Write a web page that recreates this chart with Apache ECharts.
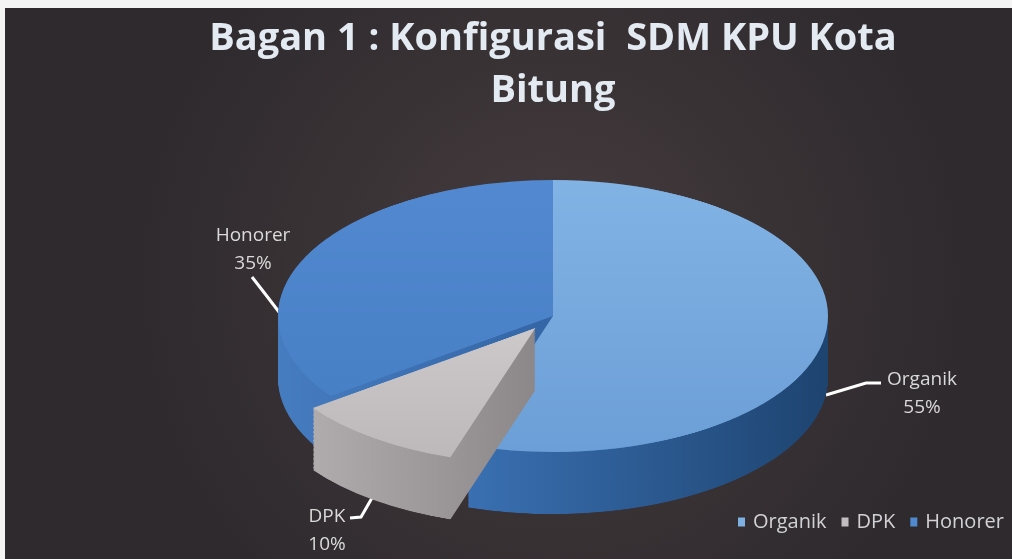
<!DOCTYPE html>
<html>
<head>
<meta charset="utf-8">
<script src="https://cdn.jsdelivr.net/npm/echarts@6/dist/echarts.min.js"></script>
<style>
html, body { margin: 0; padding: 0; background: #2e2a2e; overflow: hidden; }
#wrap { position: relative; width: 1040px; height: 559px; overflow: hidden; }
#main { position: absolute; left: 0; top: 0; width: 1040px; height: 559px; }
#pie { position: absolute; left: 0; top: 0; width: 1040px; height: 760px; pointer-events: none; }
</style>
</head>
<body>
<div id="wrap"><div id="main"></div><div id="pie"></div></div>
<script>
// data
var categories = ['Organik', 'DPK', 'Honorer'];
var values = [55, 10, 35];
var exploded = 'DPK';

// colours: top face [light, dark], side [left, right]
var topColors = [['#82b3e5', '#6c9fd7'], ['#cdc9cb', '#bdb9bb'], ['#5289d0', '#4880c6']];
var sideColors = [['#3a70b2', '#1e4470'], ['#b0acae', '#8c888a'], ['#467cc0', '#3466a6']];
var legendColors = ['#7fb0e2', '#c2bec0', '#4f8ad0'];

// fake 3D: pie drawn as a circle then squashed with css
var CX = 553, CY = 316, RX = 275, RY = 136, DEPTH = 62, LAYERS = 48;
var S = RY / RX;

var pieDom = document.getElementById('pie');
pieDom.style.transformOrigin = '0 ' + CY + 'px';
pieDom.style.transform = 'scaleY(' + S + ')';

function grad(c, horizontal) {
    return new echarts.graphic.LinearGradient(0, 0, horizontal ? 1 : 0, horizontal ? 0 : 1, [
        { offset: 0, color: c[0] },
        { offset: 1, color: c[1] }
    ]);
}

function pieData(colors, side) {
    return categories.map(function (name, i) {
        return {
            name: name,
            value: values[i],
            selected: name === exploded,
            itemStyle: { color: grad(colors[i], side) }
        };
    });
}

var pieSeries = [];
for (var k = LAYERS; k >= 0; k--) {
    pieSeries.push({
        type: 'pie',
        center: [CX, CY + k * DEPTH / S / LAYERS],
        radius: RX,
        startAngle: 90,
        clockwise: true,
        selectedMode: 'single',
        selectedOffset: 30,
        silent: true,
        animation: false,
        label: { show: false },
        labelLine: { show: false },
        itemStyle: { borderWidth: 0 },
        data: pieData(k === 0 ? topColors : sideColors, k !== 0)
    });
}

var pieChart = echarts.init(pieDom);
pieChart.setOption({ animation: false, series: pieSeries });

// label spots (annotation placement only)
var labelSpots = {
    Organik: { x: 922, y: 394, line: [[826, 395], [866, 383], [881, 383]] },
    DPK: { x: 327, y: 531, line: [[376, 491], [361, 517], [350, 518]] },
    Honorer: { x: 253, y: 250, line: [[279, 312], [266, 295], [252, 277]] }
};

var mainChart = echarts.init(document.getElementById('main'));
mainChart.setOption({
    animation: false,
    graphic: [
        {
            type: 'rect', z: -10, silent: true,
            shape: { x: 0, y: 0, width: 1040, height: 559 },
            style: {
                fill: new echarts.graphic.RadialGradient(0.53, 0.5, 0.75, [
                    { offset: 0, color: '#463c3e' },
                    { offset: 1, color: '#2e2a2e' }
                ])
            }
        },
        { type: 'rect', z: -9, silent: true, shape: { x: 0, y: 0, width: 1040, height: 8 }, style: { fill: '#f4f4f4' } },
        { type: 'rect', z: -9, silent: true, shape: { x: 0, y: 0, width: 5, height: 559 }, style: { fill: '#f4f4f4' } }
    ],
    title: {
        text: 'Bagan 1 : Konfigurasi  SDM KPU Kota\nBitung',
        left: 548,
        top: 8,
        textAlign: 'center',
        textStyle: {
            color: '#e4eaf2',
            fontFamily: 'Open Sans',
            fontWeight: 'bold',
            fontSize: 38,
            lineHeight: 52
        }
    },
    legend: {
        data: categories.map(function (name, i) {
            return { name: name, itemStyle: { color: legendColors[i] } };
        }),
        left: 738,
        top: 512,
        padding: 0,
        icon: 'rect',
        itemWidth: 7,
        itemHeight: 9,
        itemGap: 15,
        selectedMode: false,
        textStyle: { color: '#d2d2d6', fontSize: 20, fontFamily: 'Open Sans', padding: [0, 0, 0, 3] }
    },
    series: [{
        type: 'pie',
        center: [CX, CY],
        radius: RX,
        startAngle: 90,
        silent: true,
        itemStyle: { color: 'rgba(0,0,0,0)' },
        label: {
            show: true,
            formatter: '{b}\n{d}%',
            color: '#dadada',
            fontSize: 19,
            fontFamily: 'Open Sans',
            lineHeight: 28,
            align: 'center'
        },
        labelLine: { show: true, lineStyle: { color: '#ffffff', width: 3 } },
        labelLayout: function (p) {
            var spot = labelSpots[categories[p.dataIndex]];
            return {
                x: spot.x,
                y: spot.y,
                align: 'center',
                verticalAlign: 'middle',
                labelLinePoints: spot.line
            };
        },
        data: categories.map(function (name, i) {
            return { name: name, value: values[i] };
        })
    }]
});
</script>
</body>
</html>
